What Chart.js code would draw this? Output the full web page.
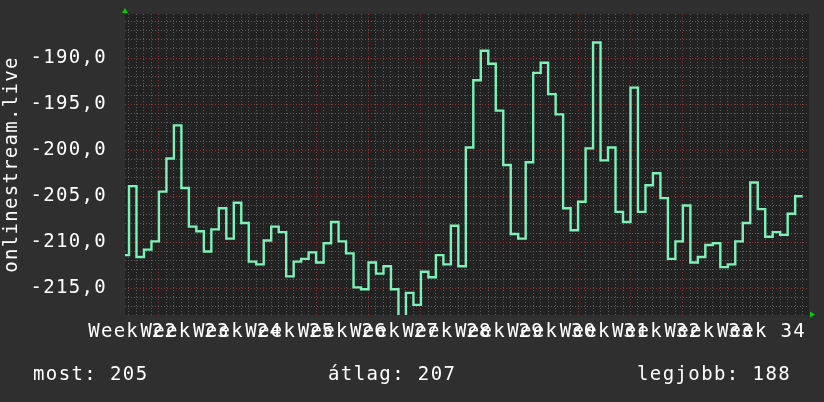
<!DOCTYPE html>
<html>
<head>
<meta charset="utf-8">
<script src="https://cdn.jsdelivr.net/npm/chart.js@4.4.1/dist/chart.umd.min.js"></script>
<style>
  html, body { margin: 0; padding: 0; background: #2f2f2f; }
  #wrap { position: relative; width: 824px; height: 402px; }
  #footer span {
    position: absolute; top: 364px; line-height: 19px;
    font-family: 'DejaVu Sans Mono', monospace; font-size: 19px;
    letter-spacing: 1.4px; color: #ffffff; white-space: pre;
  }
</style>
</head>
<body>
<div id="wrap">
  <canvas id="grafikon"></canvas>
  <div id="footer">
    <span id="most" style="left:33px"></span>
    <span id="atlag" style="left:328px"></span>
    <span id="legjobb" style="left:637px"></span>
  </div>
</div>
<script>
// napi helyezés (negatív rang)
const ertekek = [
  -211.4, -203.9, -211.6, -210.8, -209.9, -204.5, -200.9, -197.3, -204.1, -208.3,
  -208.8, -211.0, -208.6, -206.3, -209.6, -205.7, -207.9, -212.1, -212.4, -209.8,
  -208.3, -208.9, -213.7, -212.1, -211.8, -211.1, -212.2, -210.1, -207.8, -209.9,
  -211.2, -214.9, -215.1, -212.2, -213.4, -212.6, -215.1, -218.5, -215.5, -216.8,
  -213.2, -213.8, -211.4, -212.4, -208.2, -212.6, -199.7, -192.4, -189.2, -190.6,
  -195.7, -201.6, -209.1, -209.6, -201.3, -191.6, -190.5, -193.9, -196.1, -206.3,
  -208.7, -205.6, -199.8, -188.3, -201.1, -199.7, -206.7, -207.8, -193.2, -206.7,
  -203.8, -202.5, -205.2, -211.8, -209.9, -206.0, -212.2, -211.6, -210.3, -210.1,
  -212.7, -212.4, -209.9, -207.9, -203.5, -206.4, -209.4, -208.9, -209.2, -206.9,
  -205.0
];
const hetek = [22, 23, 24, 25, 26, 27, 28, 29, 30, 31, 32, 33, 34];
const yTickek = [-190, -195, -200, -205, -210, -215];
const osszesites = { most: 205, atlag: 207, legjobb: 188 };

document.getElementById('most').textContent = 'most: ' + osszesites.most;
document.getElementById('atlag').textContent = 'átlag: ' + osszesites.atlag;
document.getElementById('legjobb').textContent = 'legjobb: ' + osszesites.legjobb;

// pont i az (i-1)..i napot fedi
const pontok = ertekek.map((v, i) => ({ x: i - 1, y: v }));
pontok.push({ x: ertekek.length - 1, y: ertekek[ertekek.length - 1] });

const X_MIN = -0.534, X_MAX = 90.85;
const Y_MIN = -217.9, Y_MAX = -185.2;

Chart.defaults.font.family = "'DejaVu Sans Mono', monospace";
Chart.defaults.font.size = 19;
Chart.defaults.color = '#ffffff';

const hatter = {
  id: 'hatter',
  beforeDraw(chart) {
    const { ctx, chartArea: a } = chart;
    ctx.letterSpacing = '1.3px';
    ctx.save();
    ctx.fillStyle = '#222222';
    ctx.fillRect(a.left, a.top, a.right - a.left, a.bottom - a.top);
    ctx.restore();
  },
  afterDraw(chart) {
    const { ctx, chartArea: a } = chart;
    ctx.save();
    ctx.fillStyle = '#00d000';
    ctx.beginPath();   // felfelé nyíl
    ctx.moveTo(a.left - 3, a.top - 1);
    ctx.lineTo(a.left + 3, a.top - 1);
    ctx.lineTo(a.left, a.top - 6);
    ctx.closePath();
    ctx.fill();
    ctx.beginPath();   // jobbra nyíl
    ctx.moveTo(a.right + 1, a.bottom - 3.5);
    ctx.lineTo(a.right + 1, a.bottom + 2.5);
    ctx.lineTo(a.right + 6, a.bottom - 0.5);
    ctx.closePath();
    ctx.fill();
    ctx.restore();
  }
};

const nullaPadding = s => {
  s.paddingTop = 0; s.paddingBottom = 0; s.paddingLeft = 0; s.paddingRight = 0;
};

new Chart(document.getElementById('grafikon'), {
  type: 'line',
  data: {
    datasets: [{
      label: 'onlinestream.live',
      data: pontok,
      borderColor: '#7cf2b8',
      borderWidth: 2.4,
      pointRadius: 0,
      stepped: 'before',
      fill: false
    }]
  },
  options: {
    responsive: true,
    maintainAspectRatio: false,
    animation: false,
    events: [],
    layout: { padding: { left: 0, top: 14, right: 15, bottom: 0 } },
    plugins: { legend: { display: false }, tooltip: { enabled: false } },
    scales: {
      x: {
        type: 'linear', min: X_MIN, max: X_MAX,
        afterBuildTicks: s => {
          const t = [];
          for (let d = 0; d <= 90; d++) t.push({ value: d });
          s.ticks = t;
        },
        afterFit: s => { s.height = 0; nullaPadding(s); },
        ticks: { display: false },
        grid: {
          drawTicks: false,
          lineWidth: 1,
          color: c => ((c.tick.value - 4) % 7 === 0 ? '#8c3434' : '#5c5c5c')
        },
        border: { display: false, dash: [1, 2] }
      },
      x2: {
        type: 'linear', position: 'bottom', min: X_MIN, max: X_MAX,
        afterBuildTicks: s => { s.ticks = hetek.map((w, i) => ({ value: 0.5 + 7 * i })); },
        afterFit: s => { s.height = 87; nullaPadding(s); },
        ticks: {
          autoSkip: false, maxRotation: 0, minRotation: 0, padding: 6,
          callback: (v, i) => 'Week ' + hetek[i]
        },
        grid: { display: false, drawTicks: false },
        border: { display: false }
      },
      y: {
        min: Y_MIN, max: Y_MAX,
        afterBuildTicks: s => {
          const t = [];
          for (let v = -217; v <= -186; v++) t.push({ value: v });
          s.ticks = t;
        },
        afterFit: s => { s.width = 125; nullaPadding(s); },
        title: { display: true, text: 'onlinestream.live', padding: { top: 1, bottom: 0 } },
        ticks: {
          autoSkip: false, padding: 18,
          callback: v => (yTickek.includes(v) ? v.toFixed(1).replace('.', ',') : '')
        },
        grid: {
          drawTicks: false,
          color: c => (yTickek.includes(c.tick.value) ? '#8c3434' : '#5c5c5c')
        },
        border: { display: false, dash: [1, 2] }
      }
    }
  },
  plugins: [hatter]
});
</script>
</body>
</html>
